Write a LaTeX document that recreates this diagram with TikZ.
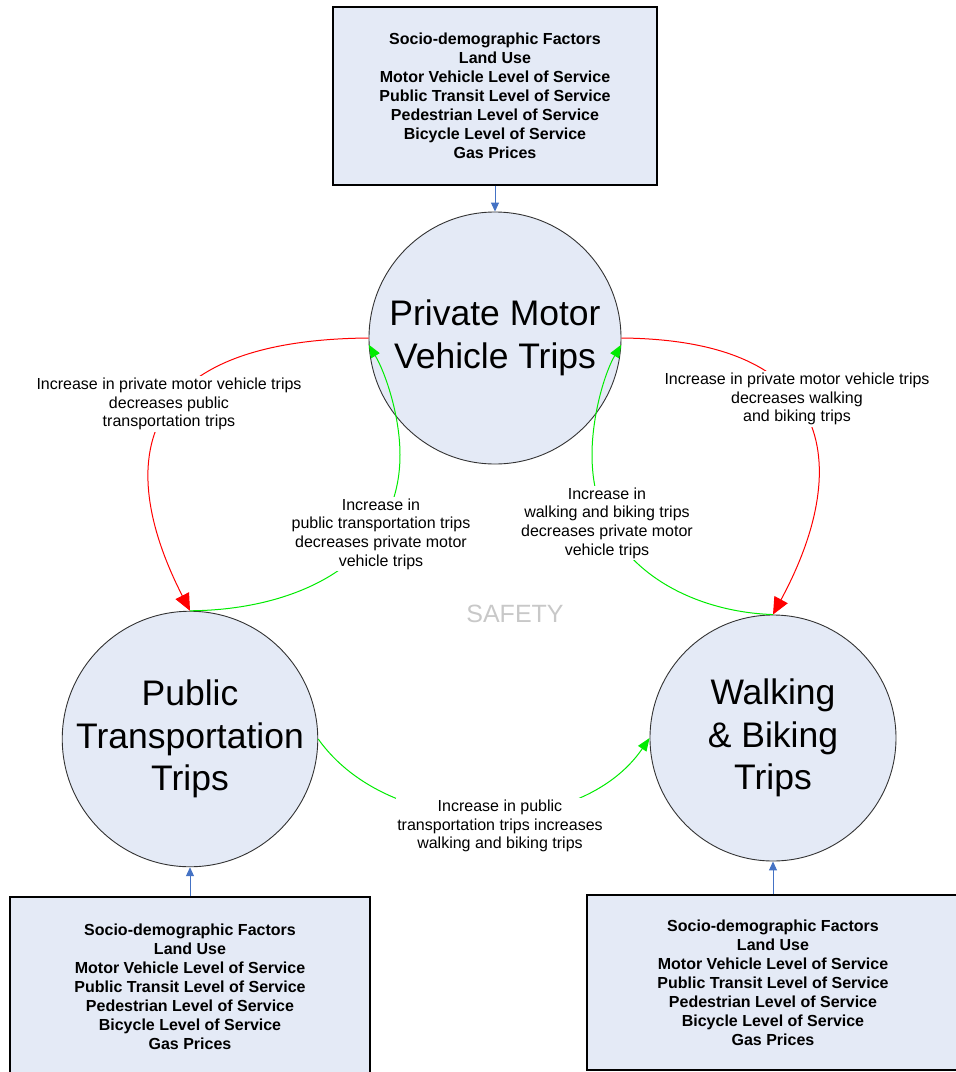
\documentclass[tikz,border=0pt]{standalone}
\usepackage{fontspec}
\setmainfont{Liberation Sans}
\usetikzlibrary{arrows.meta}
\definecolor{fillc}{RGB}{228,234,246}
\definecolor{bluea}{RGB}{68,114,196}
\definecolor{gr}{RGB}{0,235,0}
\definecolor{rd}{RGB}{255,0,0}
\definecolor{safe}{RGB}{200,200,200}
\begin{document}
\begin{tikzpicture}[x=1pt,y=-1pt,
  trip/.style={circle, draw=black!80, line width=0.9pt, fill=fillc, inner sep=0pt, align=center, font=\fontsize{35.5}{42.5}\selectfont},
  factor/.style={rectangle, draw=black, line width=1.3pt, fill=fillc, align=center, font=\bfseries\fontsize{16}{19}\selectfont, inner sep=0pt},
  lab/.style={fill=white, align=center, font=\fontsize{16}{18.6}\selectfont, inner sep=1.5pt},
  feedarrow/.style={draw=bluea, line width=1pt, -{Triangle[length=9pt,width=8pt]}},
  negarrow/.style={draw=rd, line width=1pt, -{Triangle[length=17pt,width=15pt]}},
  posarrow/.style={draw=gr, line width=1pt, -{Triangle[length=13pt,width=10pt]}},
]
\clip (0,0) rectangle (956,1072);
\useasboundingbox (0,0) rectangle (956,1072);

% trip circles
\node[trip, minimum size=252pt] (P) at (495,338) {Private Motor\\Vehicle Trips};
\node[trip, minimum size=252pt] (T) at (190,739) {Public\\Transportation\\Trips};
\node[trip, minimum size=246pt] (W) at (773,738) {Walking\\\& Biking\\Trips};

% factor boxes
\node[factor, minimum width=324pt, minimum height=178pt] (F1) at (495,96)
  {Socio-demographic Factors\\Land Use\\Motor Vehicle Level of Service\\Public Transit Level of Service\\Pedestrian Level of Service\\Bicycle Level of Service\\Gas Prices};
\node[factor, minimum width=360pt, minimum height=180pt] (F2) at (190,987)
  {Socio-demographic Factors\\Land Use\\Motor Vehicle Level of Service\\Public Transit Level of Service\\Pedestrian Level of Service\\Bicycle Level of Service\\Gas Prices};
\node[factor, minimum width=372pt, minimum height=175pt] (F3) at (773,982.5)
  {Socio-demographic Factors\\Land Use\\Motor Vehicle Level of Service\\Public Transit Level of Service\\Pedestrian Level of Service\\Bicycle Level of Service\\Gas Prices};

% feeds
\draw[feedarrow] (F1.south) -- (P.north);
\draw[feedarrow] (F2.north) -- (T.south);
\draw[feedarrow] (F3.north) -- (W.south);

% negative influences
\draw[negarrow] (P.west) .. controls (125,340) and (118,470) .. (T.north);
\draw[negarrow] (P.east) .. controls (842,340) and (850,472) .. (W.north);

% positive influences
\coordinate (gL) at (400,455);
\coordinate (gR) at (592,455);
\draw[posarrow] (T.north) .. controls (300,610) and (400,560) .. (gL) .. controls (400,415) and (385,372) .. (P.183);
\draw[posarrow] (W.north) .. controls (690,612) and (592,565) .. (gR) .. controls (592,415) and (605,372) .. (P.-3);
\draw[posarrow] (T.east) .. controls (390,840) and (580,840) .. (W.west);

% labels
\node[lab] (L1) at (169,404) {Increase in private motor vehicle trips\\decreases public\\transportation trips};
\node[lab] (L2) at (381,534) {Increase in\\public transportation trips\\decreases private motor\\vehicle trips};
\node[lab] (L3) at (797,399) {Increase in private motor vehicle trips\\decreases walking\\and biking trips};
\node[lab] (L4) at (607,523) {Increase in\\walking and biking trips\\decreases private motor\\vehicle trips};
\node[lab] (L5) at (500,826) {Increase in public\\transportation trips increases\\walking and biking trips};
\node[font=\fontsize{25}{30}\selectfont, text=safe] (S) at (515,614) {SAFETY};
\end{tikzpicture}
\end{document}
